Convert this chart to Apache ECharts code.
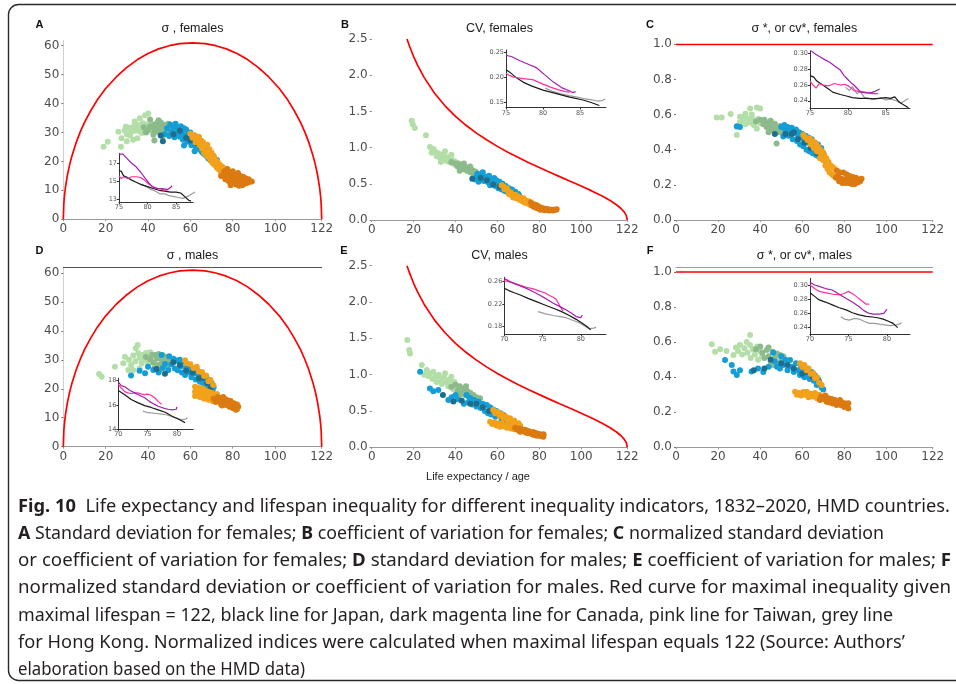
<!DOCTYPE html>
<html><head><meta charset="utf-8">
<script src="https://cdn.jsdelivr.net/npm/echarts@6/dist/echarts.min.js"></script>
<style>html,body{margin:0;padding:0;background:#fff}#c{width:956px;height:684px}</style>
</head><body><div id="c"></div>
<script>
// ---------- tick labels ----------
const xTicks = [0, 20, 40, 60, 80, 100, 122];
const sigmaTicks = [0, 10, 20, 30, 40, 50, 60];
const cvTicks = [0, 0.5, 1.0, 1.5, 2.0, 2.5];
const normTicks = [0, 0.2, 0.4, 0.6, 0.8, 1.0];
const insetFemaleXTicks = [75, 80, 85];
const insetMaleXTicks = [70, 75, 80];
const iA_yTicks = [13, 15, 17];
const iB_yTicks = [0.15, 0.20, 0.25];
const iC_yTicks = [0.24, 0.26, 0.28, 0.30];
const iD_yTicks = [14, 16, 18];
const iE_yTicks = [0.18, 0.22, 0.26];
const iF_yTicks = [0.24, 0.26, 0.28, 0.30];

// ---------- red maximal-inequality curves ----------
const sigmaMaxCurve = [[0,0],[0.25,5.5],[0.5,7.8],[1,11],[2,15.5],[3,18.9],[4,21.7],[6,26.4],[8,30.2],[10,33.5],[13,37.6],[16,41.2],[20,45.2],[25,49.2],[30,52.5],[35,55.2],[40,57.3],[45,58.9],[50,60],[55,60.7],[61,61],[67,60.7],[72,60],[77,58.9],[82,57.3],[87,55.2],[92,52.5],[97,49.2],[102,45.2],[106,41.2],[109,37.6],[112,33.5],[114,30.2],[116,26.4],[118,21.7],[119,18.9],[120,15.5],[121,11],[121.5,7.8],[121.75,5.5],[122,0]];
const cvMaxCurve = [[16.85,2.5],[17,2.485],[18,2.404],[20,2.258],[22,2.132],[25,1.970],[30,1.751],[35,1.577],[40,1.432],[45,1.308],[50,1.2],[55,1.104],[60,1.017],[65,0.936],[70,0.862],[75,0.792],[80,0.725],[85,0.660],[90,0.596],[95,0.533],[100,0.469],[105,0.402],[110,0.330],[114,0.265],[117,0.207],[119,0.159],[120.5,0.112],[121.5,0.064],[122,0]];
const normMaxLine = [[0,1],[122,1]];

// ---------- Panel A: sigma, females ----------
const A_lightgreen = [[19,25.1],[21,26.8],[26,30.3],[27.5,28],[27.2,25.1],[29,30.8],[30,29.4],[31,31.6],[32,30.2],[33,32],[33.7,33.8],[34,30.6],[35,31.8],[36,30.4],[36.1,34.9],[36.5,32.6],[37,29.8],[38,31.2],[38.6,36],[39,32.8],[39.5,30.2],[40.1,36.6],[40.5,31.6],[41,33.4],[42,30.8],[35,28],[30,27],[33,27.5],[31.5,29],[34.5,32.8],[37.5,33.2],[29.5,32]];
const A_sage = [[38,31.8],[40,30.8],[41,32.2],[42,31.8],[43,30.2],[43,32.8],[44,31.4],[44.5,33.4],[45,30.2],[45.5,32.2],[46,31.3],[46.5,29.8],[47,32.8],[47.5,31],[48,30.2],[48.5,32.4],[49,31.2],[49.5,33],[50,30.4],[50.5,32],[51,31],[52,30.6],[43,27.2],[47,28.6],[41,34.5],[45,34.2],[42.5,29.2],[46,33.5],[39,30]];
const A_blue = [[48,29.5],[49,31.5],[50,28.8],[50.5,32.8],[51,30.2],[52,31.8],[52.5,28.4],[53,33],[53.5,30],[54,31.8],[55,28.5],[55.5,32.2],[56,30],[56.5,27.5],[57,31.5],[57.5,29],[58,31],[58.5,26.8],[59,29.8],[59.5,27.8],[60,30],[60.5,25.6],[61,28.6],[61.5,26.6],[62,29],[62.5,25],[63,27.8],[63.5,26],[64,28],[64.5,24],[65,26.6],[65.5,23.2],[66,25.4],[66.5,22.6],[67,24.6],[67.5,22],[68,23.8],[68.5,21],[69,23],[69.5,20.4],[70,22.2],[70.5,19.6],[71,21.4],[72,19.2],[72.5,20.6],[57,25.5],[62,23.5],[54,29.5],[59,28.5],[64,26.8]];
const A_teal = [[47,27],[52,29.4],[55,30.6],[58,28.2],[60,27.2],[63,26.4],[65,25],[67,23.2],[69,21.8],[71,20.4],[46,29]];
const A_orange = [[60,29.6],[61,28.2],[62,29],[62.5,26.6],[63,28.2],[63.5,27],[64,28.5],[64.5,25.5],[65,27.2],[65.5,24.5],[66,26.6],[66.5,23],[67,25.6],[67.5,22.2],[68,25.8],[68.5,21.5],[69,24.2],[69.5,20.4],[70,23],[70.5,19.5],[71,22],[71.5,18.8],[72,20.6],[72.5,17.8],[73,19.6],[73.5,17.2],[74,18.8],[74.5,16.2],[75,18.2],[75.5,15.6],[76,17.6],[76.5,14.6],[66,24.8],[68,23.4],[70,21.2],[72,19.2],[74,17.4]];
const A_darkorange = [[76,16.6],[77,15.2],[77.5,17.4],[78,13.2],[78.5,16],[79,12.4],[79.5,14.8],[80,16.6],[80.5,13.2],[81,15.4],[81.5,12],[82,14.2],[82.5,16],[83,12.6],[83.5,15],[84,13.6],[84.5,11.8],[85,14.6],[85.5,12.8],[86,14.2],[86.5,13.2],[87,12.6],[87.5,13.8],[88,13],[89,13.1],[79,11.8],[83,11.6],[76.5,13.8],[74.5,15],[77,14],[78,15.4],[80,14.2],[82,13],[84,14.8],[86,12.4]];

// ---------- Panel B: CV, females ----------
const B_lightgreen = [[19.1,1.37],[19.6,1.32],[20.6,1.27],[25.9,1.17],[27.8,1.01],[28.6,0.93],[29.5,0.98],[30.5,0.94],[31,0.88],[32,0.92],[32.5,0.86],[33.5,0.9],[34,0.84],[35,0.88],[35.5,0.82],[36.5,0.86],[37,0.8],[38,0.84],[38.5,0.78],[39.5,0.81],[40,0.76],[41,0.79],[35,0.95],[38,0.9],[33,0.8]];
const B_sage = [[38,0.8],[40,0.78],[41,0.74],[42,0.77],[42.5,0.72],[43.5,0.75],[44,0.7],[45,0.73],[45.5,0.68],[46.5,0.71],[47,0.66],[48,0.69],[48.5,0.64],[49.5,0.67],[50,0.62],[51,0.64],[51.5,0.6],[44,0.78],[47,0.74],[42,0.68]];
const B_blue = [[49.5,0.56],[50,0.6],[50.5,0.64],[51,0.53],[52,0.62],[52.5,0.57],[53,0.66],[53.5,0.54],[54,0.6],[55,0.57],[55.5,0.52],[56,0.61],[56.5,0.48],[57,0.55],[58,0.52],[58.5,0.58],[59,0.47],[59.5,0.55],[60,0.5],[60.5,0.44],[61,0.53],[61.5,0.47],[62,0.42],[62.5,0.5],[63,0.45],[63.5,0.4],[64,0.47],[64.5,0.43],[65,0.38],[65.5,0.44],[66,0.41],[66.5,0.36],[67,0.42],[67.5,0.38],[68,0.34],[68.5,0.39],[69,0.35],[69.5,0.31],[70,0.36],[70.5,0.33],[71,0.29]];
const B_teal = [[48,0.57],[52,0.58],[55,0.55],[58,0.49],[61,0.46],[64,0.41],[67,0.37],[70,0.32]];
const B_orange = [[62,0.48],[63,0.46],[63.5,0.42],[64.5,0.44],[65,0.4],[65.5,0.36],[66.5,0.38],[67,0.34],[67.5,0.31],[68.5,0.35],[69,0.3],[69.5,0.33],[70.5,0.28],[71,0.31],[72,0.26],[72.5,0.3],[73,0.24],[73.5,0.27],[74,0.23],[75,0.26],[75.5,0.21]];
const B_darkorange = [[76,0.24],[76.5,0.2],[77,0.22],[77.5,0.18],[78,0.21],[78.5,0.17],[79,0.2],[79.5,0.16],[80,0.18],[80.5,0.14],[81,0.17],[81.5,0.15],[82,0.16],[82.5,0.135],[83,0.155],[83.5,0.14],[84,0.15],[84.5,0.13],[85,0.145],[85.5,0.135],[86,0.14],[86.5,0.13],[87,0.14],[88,0.14],[88.3,0.15]];

// ---------- Panel C: sigma*, cv*, females ----------
const C_lightgreen = [[19.3,0.584],[21.7,0.584],[26,0.604],[28.9,0.484],[28.9,0.53],[30.4,0.588],[30.4,0.556],[31.5,0.57],[32.5,0.59],[33,0.545],[34,0.575],[35,0.555],[35.2,0.635],[36,0.58],[37,0.54],[37.5,0.565],[38.4,0.641],[38.4,0.52],[39,0.575],[40,0.635],[40,0.55],[41,0.56],[33,0.605],[36,0.6]];
const C_sage = [[38,0.56],[40,0.57],[41.5,0.545],[42,0.57],[43,0.53],[43.5,0.555],[44.5,0.52],[45,0.55],[46,0.535],[46.5,0.505],[47,0.548],[47.8,0.435],[48,0.52],[49,0.5],[49.5,0.535],[50,0.51],[51,0.49],[51.5,0.525],[52.5,0.5],[44,0.5],[45,0.565]];
const C_blue = [[28.9,0.534],[30.4,0.53],[50,0.53],[51,0.475],[51.5,0.54],[52,0.51],[53,0.53],[53.5,0.48],[54,0.51],[55,0.525],[55.5,0.46],[56,0.495],[57,0.515],[57.5,0.45],[58,0.48],[58.5,0.5],[59,0.43],[59.5,0.47],[60,0.49],[60.5,0.42],[61,0.455],[61.5,0.48],[62,0.4],[62.5,0.44],[63,0.47],[63.5,0.39],[64,0.43],[64.5,0.46],[65,0.38],[65.5,0.42],[66,0.44],[66.5,0.37],[67,0.41],[67.5,0.43],[68,0.36],[68.5,0.39],[69,0.41],[69.5,0.35],[70,0.38],[70.5,0.34]];
const C_teal = [[47,0.49],[52,0.49],[55,0.49],[58,0.46],[61,0.44],[64,0.41],[67,0.38],[69,0.37],[56,0.5]];
const C_orange = [[60.5,0.484],[61.5,0.47],[62.5,0.455],[63.5,0.465],[64,0.43],[65,0.45],[65.5,0.41],[66.5,0.435],[67,0.39],[67.5,0.42],[68.4,0.351],[68.5,0.4],[69,0.37],[69.5,0.39],[70,0.34],[70.5,0.37],[71,0.31],[71.5,0.35],[72,0.29],[72.5,0.33],[73,0.27],[73.5,0.31],[74,0.26],[74.5,0.3],[75,0.25],[75.5,0.29]];
const C_darkorange = [[76,0.24],[76.5,0.28],[77,0.25],[77.5,0.22],[78,0.27],[78.5,0.235],[79,0.21],[79.5,0.27],[80,0.23],[80.5,0.21],[81,0.26],[81.5,0.235],[82,0.21],[82.5,0.25],[83,0.225],[83.5,0.205],[84,0.245],[84.5,0.22],[85,0.205],[85.5,0.24],[86,0.225],[86.5,0.215],[87,0.23],[87.5,0.22],[88.2,0.235]];

// ---------- Panel D: sigma, males ----------
const D_lightgreen = [[16.9,25.1],[18.1,24.2],[24.4,27.6],[28.3,28.8],[30.7,26.5],[29.1,31.1],[31,30],[32,28.2],[33,31.5],[34,29.5],[34.2,34],[35.1,35.1],[35.4,32.3],[36,30.6],[37,28.8],[37.5,31.8],[38.5,30],[39,32.4],[40,29],[40.5,31.2],[41,32.6],[36,27],[33,26.5]];
const D_sage = [[39,31],[41,30.2],[42,31.8],[42.5,29],[43.3,31.7],[44,30.4],[44.5,28.2],[45,32],[46,30.4],[46.5,28.8],[47,31.6],[48,29.8],[48.5,31],[49,28],[49.6,30.5],[50,29],[51,30.2],[43,27],[46,26.8]];
const D_blue = [[38.6,25.4],[42.5,26.5],[40,27.6],[36,26.2],[32,24.6],[45,25.6],[47,27.2],[46.4,31.7],[48,28.6],[49.6,26.5],[50,31.2],[51,28.4],[52,30.4],[52.7,27],[53.5,29.8],[54,26.4],[55,30],[55.5,27.8],[56,25.6],[57,29.4],[57.5,24.8],[58,27.2],[59,28.2],[59.5,25.6],[60,27.4],[60.5,24],[61,26.8],[62,25.4],[62.5,23.2],[63,26.6],[64,24.4],[64.5,22.4],[65,25.4],[65.5,23.2],[66,21.8],[67,24.4],[67.5,22.2],[68,20.8],[68.5,23.2],[69,21.2],[70,22],[70.5,19.6],[71,20.6]];
const D_teal = [[44,26.8],[48,25.2],[52,29.2],[55,28.2],[58,26.2],[61,25.6],[64,23.6],[66,23.8],[68,22],[69.5,20.2]];
const D_orange = [[57.5,29.9],[58.3,28.8],[60,28.5],[61.5,27.2],[63,27.6],[64,26],[65.5,25.8],[66.5,24.4],[67.5,24.6],[68.5,22.6],[69.5,23],[70.8,21.3],[62.2,20.7],[62.2,19],[62.2,17.5],[63.5,20.4],[63.5,18.4],[64.5,19.6],[64.5,17.2],[65.5,20.2],[65.5,18.2],[66.5,16.6],[66.9,19.6],[67.5,17.8],[68.5,19],[68.5,16.2],[69.5,17.6],[70,18.6],[70.5,15.8],[71.5,17.4],[72,16.2],[72.5,18.2]];
const D_darkorange = [[72,15.4],[73,17.2],[73.5,15.8],[74,16.8],[74.5,14.6],[75,16.2],[75.5,17.2],[76,15],[76.5,16.4],[77,14.4],[77.5,16],[78,15],[78.5,13.8],[79,15.8],[79.5,14.4],[80,13.4],[80.5,15],[81,14],[81.5,12.8],[82,14.6],[82.6,13.8],[82,13],[71,16.6],[75,14.2]];

// ---------- Panel E: CV, males ----------
const E_lightgreen = [[17,1.477],[17.9,1.34],[18.3,1.29],[23.9,1.133],[26.3,1.064],[25,1.0],[27,0.98],[28,1.02],[29,0.94],[29.4,1.04],[30.5,0.97],[31,0.9],[32,1.0],[33,0.93],[33.5,0.87],[34.5,0.96],[35,1.02],[35.5,0.9],[36.5,0.84],[37,0.93],[38,0.87],[39,0.8],[39.5,0.9],[40.5,0.83],[38,0.97]];
const E_sage = [[38,0.83],[40,0.86],[41,0.78],[42,0.84],[43,0.76],[43.7,0.81],[44.5,0.72],[45.5,0.78],[46,0.7],[47,0.75],[48,0.67],[48.5,0.72],[49.5,0.65],[50,0.69],[51,0.62],[51.7,0.675],[45,0.84],[42,0.72]];
const E_blue = [[23.1,1.04],[27.8,0.81],[29.4,0.77],[31.8,0.79],[36.6,0.65],[38.2,0.69],[41,0.66],[44,0.6],[45.3,0.72],[46,0.62],[47,0.68],[48,0.59],[49,0.65],[50,0.56],[51,0.63],[52,0.54],[53,0.6],[54,0.5],[54.9,0.582],[55.5,0.47],[56.5,0.55],[57,0.45],[58,0.52],[59,0.42],[59.5,0.5],[60.5,0.44],[61.5,0.47],[62,0.39],[63,0.44],[63.5,0.37],[64.4,0.4],[65,0.34],[66,0.38],[67,0.32],[68,0.35],[69,0.3],[70,0.32],[70.8,0.284],[40,0.72]];
const E_teal = [[34,0.72],[39,0.63],[43,0.64],[47,0.6],[50,0.6],[53,0.55],[56,0.5],[60,0.46],[63,0.4],[66,0.35],[69,0.32]];
const E_orange = [[58,0.513],[59,0.47],[60,0.49],[61,0.43],[62,0.46],[63,0.4],[64,0.42],[65,0.37],[66,0.4],[67,0.34],[68,0.37],[69,0.31],[70,0.33],[70.8,0.3],[56.5,0.352],[57.5,0.32],[58.5,0.34],[59.5,0.3],[60,0.33],[61,0.31],[61.2,0.284],[62,0.33],[63,0.29],[64,0.31],[64.5,0.27],[65.5,0.3],[66.5,0.26],[67.5,0.29],[68,0.25]];
const E_darkorange = [[68.5,0.27],[69.5,0.24],[70.5,0.26],[70.8,0.215],[71.5,0.25],[72,0.22],[73,0.24],[73.5,0.205],[74,0.23],[74.5,0.195],[75,0.22],[76,0.2],[76.5,0.18],[77,0.21],[77.5,0.17],[78,0.2],[78.8,0.16],[79.5,0.185],[80,0.17],[80.5,0.155],[81,0.175],[81.9,0.146],[81.9,0.165],[82,0.18]];

// ---------- Panel F: sigma*, cv*, males ----------
const F_lightgreen = [[17,0.588],[18.6,0.545],[21,0.56],[27.3,0.526],[28.5,0.57],[29.5,0.55],[30.4,0.584],[31.5,0.53],[32.5,0.565],[33.6,0.6],[34,0.54],[35.2,0.584],[35.2,0.64],[35.5,0.51],[36.5,0.56],[37.5,0.53],[38.5,0.575],[39,0.5],[40,0.55],[41,0.52],[24,0.55]];
const F_sage = [[38,0.56],[40,0.575],[41,0.54],[42,0.51],[43.1,0.555],[44,0.52],[45,0.49],[46,0.545],[46.2,0.47],[47,0.51],[48,0.535],[48.5,0.48],[49.4,0.526],[50,0.5],[51,0.52],[44,0.57]];
const F_blue = [[23.3,0.498],[26.5,0.47],[27.3,0.432],[28.9,0.412],[30.4,0.44],[35.9,0.432],[39,0.45],[41.5,0.43],[44,0.46],[46.2,0.54],[47,0.49],[48,0.46],[49.4,0.45],[50,0.52],[51,0.47],[52,0.5],[53,0.44],[54.2,0.498],[55,0.46],[56,0.43],[57,0.48],[58,0.44],[58.9,0.412],[59.5,0.46],[60.5,0.43],[61,0.4],[62.1,0.45],[63,0.41],[63.5,0.39],[64.5,0.43],[65.5,0.38],[66,0.41],[66.9,0.355],[67.5,0.39],[68.5,0.36],[69.2,0.34],[70,0.33]];
const F_teal = [[37,0.44],[42,0.45],[45,0.5],[50,0.48],[53,0.47],[56,0.45],[60,0.42],[62,0.43],[65,0.4],[68,0.375]];
const F_orange = [[58.9,0.48],[60,0.46],[61,0.47],[62,0.44],[63,0.45],[64,0.42],[65.3,0.422],[66,0.395],[67,0.4],[68,0.37],[69.2,0.355],[56.6,0.317],[57.5,0.3],[58.5,0.31],[59.5,0.295],[60.5,0.315],[61.5,0.3],[62.1,0.317],[63,0.285],[64,0.305],[65,0.29],[66,0.31],[67,0.28],[68,0.3]];
const F_darkorange = [[68.4,0.27],[69,0.29],[70,0.275],[71,0.295],[71.6,0.26],[72.5,0.28],[73,0.255],[74,0.275],[74.5,0.25],[75.5,0.27],[76.3,0.241],[77,0.26],[77.9,0.27],[78.5,0.24],[79,0.255],[80,0.23],[80.5,0.25],[81,0.235],[81.9,0.251],[81.9,0.222],[80,0.245]];

// ---------- Insets: Japan, Canada, Taiwan, Hong Kong ----------
const A_canada = [[75,18.0],[75.7,18.0],[76.3,17.6],[77.2,17.0],[78,16.6],[78.8,16.0],[79.5,15.4],[80.1,14.9],[80.8,14.4],[81.5,14.2],[82.5,14.2],[83.5,14.1],[84,14.3],[84.3,14.5]];
const A_japan = [[75,16.2],[75.4,16.1],[75.8,15.6],[76.5,15.4],[77.3,15.1],[78,14.9],[79,14.6],[80,14.4],[81,14.2],[82,14.0],[83,13.9],[84,13.8],[85,13.8],[85.8,13.7],[86.5,13.3],[87.2,12.9],[87.6,12.8]];
const A_taiwan = [[75,15.6],[75.4,15.3],[75.8,15.5],[76.5,15.3],[77.2,15.5],[78,15.5],[78.8,15.4],[79.5,15.1],[80.2,14.7],[81,14.4],[81.8,14.2],[82.5,14.1],[83.3,14.0],[83.6,14.1]];
const A_hongkong = [[79,14.7],[79.8,14.4],[80.6,14.1],[81.4,13.9],[82.2,13.6],[83,13.6],[83.8,13.4],[84.6,13.3],[85.4,13.2],[86.2,13.1],[86.9,13.3],[87.5,13.5],[88.3,13.8]];

const B_canada = [[75,0.244],[75.8,0.241],[76.9,0.233],[78,0.226],[79.1,0.219],[80.2,0.205],[81.4,0.19],[82.5,0.179],[83.6,0.172],[84,0.169],[84.4,0.171]];
const B_japan = [[75,0.215],[75.5,0.21],[76.3,0.2],[77.3,0.19],[78.5,0.182],[80,0.174],[81.8,0.167],[83.6,0.16],[85.4,0.154],[86.5,0.149],[87.6,0.143]];
const B_taiwan = [[75,0.208],[75.5,0.203],[76,0.2],[77.3,0.197],[78.6,0.195],[80,0.186],[81,0.18],[82,0.175],[83,0.171],[83.6,0.17]];
const B_hongkong = [[80.3,0.178],[81.2,0.172],[82.3,0.167],[83.5,0.163],[84.6,0.16],[85.5,0.157],[86.4,0.155],[87.3,0.152],[88,0.153],[88.4,0.156]];

const C_canada = [[75,0.305],[75.6,0.3],[76.3,0.296],[77,0.292],[77.6,0.289],[78.3,0.284],[79,0.279],[79.5,0.272],[79.9,0.268],[80.4,0.263],[80.8,0.26],[81.3,0.255],[81.7,0.251],[82.4,0.25],[83,0.25],[83.6,0.252],[84.2,0.255]];
const C_japan = [[75,0.272],[75.5,0.27],[75.9,0.265],[76.7,0.26],[77.3,0.256],[78,0.251],[79,0.248],[79.8,0.246],[80.6,0.244],[81.5,0.243],[82.5,0.243],[83.3,0.2425],[84.2,0.243],[85,0.244],[85.6,0.243],[86.2,0.245],[86.8,0.238],[87.5,0.234],[88,0.231]];
const C_taiwan = [[75,0.265],[75.4,0.26],[75.8,0.256],[76.2,0.262],[76.7,0.26],[77.5,0.259],[78.2,0.262],[79,0.26],[79.6,0.261],[80.2,0.258],[80.8,0.253],[81.5,0.252],[82.3,0.251],[83.2,0.249],[84,0.249]];
const C_hongkong = [[79.7,0.257],[80.2,0.253],[80.6,0.258],[81.2,0.249],[81.6,0.252],[82.2,0.244],[82.8,0.243],[83.5,0.242],[84.3,0.244],[85,0.241],[85.7,0.242],[86.4,0.24],[87,0.237],[87.5,0.24],[88,0.243]];

const D_canada = [[70,17.9],[70.5,17.6],[71.1,17.5],[72,17.2],[72.8,17.0],[73.6,16.8],[74.5,16.6],[75.3,16.3],[76.2,16.05],[76.8,15.9],[77.4,15.8],[78,15.7],[78.5,15.65],[79.2,15.6],[79.9,15.65],[80,15.85]];
const D_taiwan = [[70,17.7],[70.5,17.4],[71.1,17.1],[71.6,17.0],[72.2,16.95],[72.8,17.0],[73.3,17.0],[74,16.9],[74.5,16.85],[75,16.9],[75.6,16.8],[76.2,16.6],[76.8,16.3],[77.4,16.05]];
const D_japan = [[70,17.2],[70.3,17.1],[71.1,16.85],[72.2,16.45],[73.3,16.2],[74.5,15.95],[75.6,15.8],[76.8,15.6],[78,15.4],[79.1,15.1],[80.2,14.85],[80.8,14.7],[81.4,14.55]];
const D_hongkong = [[74.2,15.5],[74.8,15.4],[75.6,15.35],[76.5,15.3],[77.4,15.25],[78.2,15.2],[79.1,15.05],[79.8,14.95],[80.5,14.85],[81,14.8],[81.5,14.85],[81.8,14.95]];

const E_canada = [[70,0.266],[70.5,0.262],[71.2,0.257],[72,0.253],[72.9,0.248],[73.8,0.242],[74.6,0.236],[75.5,0.229],[76.4,0.221],[77.3,0.215],[78.1,0.209],[78.8,0.203],[79.4,0.197],[80,0.195],[80.2,0.2]];
const E_taiwan = [[70,0.262],[70.6,0.26],[71.2,0.258],[72,0.254],[72.9,0.25],[73.8,0.247],[74.6,0.243],[75.3,0.24],[75.9,0.235],[76.4,0.232],[76.8,0.228],[77.3,0.215],[77.7,0.207]];
const E_japan = [[70,0.248],[70.6,0.244],[71.3,0.24],[72.1,0.236],[73.1,0.23],[74.2,0.224],[75.3,0.218],[76.4,0.212],[77.5,0.206],[78.5,0.199],[79.4,0.192],[80.2,0.185],[80.8,0.179],[81.3,0.173]];
const E_hongkong = [[74.4,0.206],[75.4,0.202],[76.4,0.199],[77.3,0.197],[78.1,0.195],[79,0.19],[79.8,0.186],[80.5,0.18],[81.1,0.175],[81.7,0.176],[82,0.178]];

const F_canada = [[70,0.304],[70.6,0.3],[71.2,0.298],[72,0.295],[72.9,0.293],[73.8,0.287],[74.7,0.281],[75.5,0.276],[76.4,0.2695],[77,0.264],[77.7,0.26],[78.3,0.259],[79,0.259],[79.6,0.26],[80,0.266]];
const F_taiwan = [[70,0.3],[70.6,0.295],[71.2,0.291],[72.1,0.289],[73,0.287],[73.8,0.286],[74.4,0.288],[75,0.291],[75.5,0.288],[76,0.284],[76.6,0.279],[77.3,0.273],[77.7,0.273]];
const F_japan = [[70,0.289],[70.6,0.284],[71.2,0.279],[72,0.276],[72.9,0.272],[73.8,0.268],[74.7,0.265],[75.5,0.261],[76.4,0.258],[77.3,0.256],[78.1,0.255],[78.8,0.254],[79.5,0.252],[80.2,0.249],[80.8,0.246],[81.4,0.24]];
const F_hongkong = [[74,0.2554],[74.5,0.252],[75.1,0.2507],[75.8,0.253],[76.4,0.2521],[77,0.249],[77.7,0.246],[78.4,0.246],[79,0.245],[79.7,0.244],[80.3,0.243],[81.2,0.244],[81.6,0.245],[81.9,0.247]];

// ---------- texts ----------
const panelLetters = ['A','B','C','D','E','F'];
const panelTitles = ['σ , females','CV, females','σ *, or cv*, females','σ , males','CV, males','σ *, or cv*, males'];
const xAxisTitle = 'Life expectancy / age';
const captionLines = [
  [['Fig. 10', true], ['  Life expectancy and lifespan inequality for different inequality indicators, 1832–2020, HMD countries.', false]],
  [['A', true], [' Standard deviation for females; ', false], ['B', true], [' coefficient of variation for females; ', false], ['C', true], [' normalized standard deviation', false]],
  [['or coefficient of variation for females; ', false], ['D', true], [' standard deviation for males; ', false], ['E', true], [' coefficient of variation for males; ', false], ['F', true]],
  [['normalized standard deviation or coefficient of variation for males. Red curve for maximal inequality given', false]],
  [['maximal lifespan = 122, black line for Japan, dark magenta line for Canada, pink line for Taiwan, grey line', false]],
  [['for Hong Kong. Normalized indices were calculated when maximal lifespan equals 122 (Source: Authors’', false]],
  [['elaboration based on the HMD data)', false]]
];

// ---------- layout (pixels) ----------
const mainGrids = [
  {left:63.3, top:40.5, width:258.4, height:178.8, ymax:61.8, ticks:sigmaTicks, fmt:v=>String(v), yline:true},
  {left:371.7, top:39, width:255.6, height:181, ymax:2.5, ticks:cvTicks, fmt:v=>v.toFixed(1), yline:false},
  {left:676, top:44.3, width:256.7, height:175.7, ymax:1.0, ticks:normTicks, fmt:v=>v.toFixed(1), yline:false},
  {left:63.3, top:266.9, width:258.4, height:179.8, ymax:62.1, ticks:sigmaTicks, fmt:v=>String(v), yline:true},
  {left:371.7, top:265.7, width:255.6, height:181.6, ymax:2.5, ticks:cvTicks, fmt:v=>v.toFixed(1), yline:false},
  {left:676, top:267, width:256.7, height:180.3, ymax:1.0285, ticks:normTicks, fmt:v=>v.toFixed(1), yline:false}
];
const insetGrids = [
  {left:119, top:153.3, width:74.3, height:49, xmin:75, xmax:88, ymin:12.67, ymax:18.1, xt:insetFemaleXTicks, yt:iA_yTicks, fmt:v=>String(v)},
  {left:506, top:50, width:100, height:57.5, xmin:75, xmax:88.5, ymin:0.139, ymax:0.2545, xt:insetFemaleXTicks, yt:iB_yTicks, fmt:v=>v.toFixed(2)},
  {left:810, top:51, width:100, height:57.3, xmin:75, xmax:88.2, ymin:0.2304, ymax:0.3033, xt:insetFemaleXTicks, yt:iC_yTicks, fmt:v=>v.toFixed(2)},
  {left:118.3, top:378.3, width:75, height:51, xmin:70, xmax:82.8, ymin:14, ymax:18.2, xt:insetMaleXTicks, yt:iD_yTicks, fmt:v=>String(v)},
  {left:504.3, top:277.3, width:101.7, height:57, xmin:70, xmax:83.3, ymin:0.165, ymax:0.268, xt:insetMaleXTicks, yt:iE_yTicks, fmt:v=>v.toFixed(2)},
  {left:810, top:278.3, width:100, height:56, xmin:70, xmax:83, ymin:0.2307, ymax:0.3094, xt:insetMaleXTicks, yt:iF_yTicks, fmt:v=>v.toFixed(2)}
];

const COL = {lightgreen:'#b3dea8', sage:'#8dba8b', blue:'#159ed6', teal:'#1d6e8e', orange:'#f2a11b', darkorange:'#dc7a12',
  japan:'#1a1a1a', canada:'#a21fb3', taiwan:'#ff2f9c', hongkong:'#9b9b9b', red:'#ff0000'};
const tickFont = 'DejaVu Sans';

const grid = [], xAxis = [], yAxis = [], series = [];
mainGrids.forEach((g, i) => {
  grid.push({left:g.left, top:g.top, width:g.width, height:g.height, containLabel:false});
  xAxis.push({gridIndex:i, type:'value', min:0, max:122,
    axisLine:{show:true, onZero:false, lineStyle:{color:'#9a9a9a', width:1.2}},
    axisTick:{show:true, length:2, customValues:xTicks, lineStyle:{color:'#9a9a9a'}},
    axisLabel:{customValues:xTicks, margin:4, color:'#4d4d4d', fontFamily:tickFont, fontSize:12},
    splitLine:{show:false}});
  yAxis.push({gridIndex:i, type:'value', min:0, max:g.ymax,
    axisLine:{show:g.yline, lineStyle:{color:'#d0d0d0', width:1}},
    axisTick:{show:true, length:2, customValues:g.ticks, lineStyle:{color:'#777'}},
    axisLabel:{customValues:g.ticks, margin:4, color:'#4d4d4d', fontFamily:tickFont, fontSize:12, formatter:g.fmt},
    splitLine:{show:false}});
});
insetGrids.forEach((g, k) => {
  const i = 6 + k;
  grid.push({left:g.left, top:g.top, width:g.width, height:g.height, containLabel:false});
  xAxis.push({gridIndex:i, type:'value', min:g.xmin, max:g.xmax,
    axisLine:{show:true, onZero:false, lineStyle:{color:'#333', width:1}},
    axisTick:{show:true, length:2, customValues:g.xt, lineStyle:{color:'#333'}},
    axisLabel:{customValues:g.xt, margin:2, color:'#555', fontFamily:tickFont, fontSize:6.5},
    splitLine:{show:false}});
  yAxis.push({gridIndex:i, type:'value', min:g.ymin, max:g.ymax,
    axisLine:{show:true, onZero:false, lineStyle:{color:'#333', width:1}},
    axisTick:{show:true, length:2, customValues:g.yt, lineStyle:{color:'#333'}},
    axisLabel:{customValues:g.yt, margin:2, color:'#555', fontFamily:tickFont, fontSize:6.5, formatter:g.fmt},
    splitLine:{show:false}});
});
// top border lines seen in panels D and F
xAxis.push({gridIndex:3, type:'value', position:'top', min:0, max:122, axisLine:{show:true, onZero:false, lineStyle:{color:'#555', width:1}}, axisTick:{show:false}, axisLabel:{show:false}, splitLine:{show:false}});
xAxis.push({gridIndex:5, type:'value', position:'top', min:0, max:122, axisLine:{show:true, onZero:false, lineStyle:{color:'#a0a0a0', width:1.2}}, axisTick:{show:false}, axisLabel:{show:false}, splitLine:{show:false}});

function cloud(i, data, color) {
  return {type:'scatter', xAxisIndex:i, yAxisIndex:i, data:data, symbolSize:6, itemStyle:{color:color, opacity:1}, silent:true, z:2};
}
function redLine(i, data) {
  return {type:'line', xAxisIndex:i, yAxisIndex:i, data:data, showSymbol:false, smooth:false, lineStyle:{color:COL.red, width:1.7}, silent:true, z:3};
}
function country(i, data, color) {
  return {type:'line', xAxisIndex:i, yAxisIndex:i, data:data, showSymbol:false, lineStyle:{color:color, width:1.2}, silent:true, z:4};
}
const clouds = [
  [A_lightgreen, A_sage, A_blue, A_teal, A_orange, A_darkorange],
  [B_lightgreen, B_sage, B_blue, B_teal, B_orange, B_darkorange],
  [C_lightgreen, C_sage, C_blue, C_teal, C_orange, C_darkorange],
  [D_lightgreen, D_sage, D_blue, D_teal, D_orange, D_darkorange],
  [E_lightgreen, E_sage, E_blue, E_teal, E_orange, E_darkorange],
  [F_lightgreen, F_sage, F_blue, F_teal, F_orange, F_darkorange]
];
const cloudColors = [COL.lightgreen, COL.sage, COL.blue, COL.teal, COL.orange, COL.darkorange];
const redCurves = [sigmaMaxCurve, cvMaxCurve, normMaxLine, sigmaMaxCurve, cvMaxCurve, normMaxLine];
clouds.forEach((set, i) => {
  set.forEach((d, j) => series.push(cloud(i, d, cloudColors[j])));
  series.push(redLine(i, redCurves[i]));
});
const insetLines = [
  [A_hongkong, A_japan, A_taiwan, A_canada],
  [B_hongkong, B_japan, B_taiwan, B_canada],
  [C_hongkong, C_japan, C_taiwan, C_canada],
  [D_hongkong, D_japan, D_taiwan, D_canada],
  [E_hongkong, E_japan, E_taiwan, E_canada],
  [F_hongkong, F_japan, F_taiwan, F_canada]
];
const insetColors = [COL.hongkong, COL.japan, COL.taiwan, COL.canada];
insetLines.forEach((set, k) => set.forEach((d, j) => series.push(country(6 + k, d, insetColors[j]))));

// ---------- graphic texts ----------
const graphic = [];
graphic.push({type:'rect', shape:{x:8.5, y:4.5, width:960, height:676, r:10}, style:{fill:'none', stroke:'#2b2b2b', lineWidth:1.4}, silent:true});
const letterPos = [[39.5,24.5],[345,24.5],[650,24.5],[39.5,251.3],[344,251.3],[650,251.3]];
const titleY = [29, 29, 29, 256, 256, 256];
mainGrids.forEach((g, i) => {
  graphic.push({type:'text', x:letterPos[i][0], y:letterPos[i][1], silent:true,
    style:{text:panelLetters[i], fontFamily:'Liberation Sans', fontWeight:'bold', fontSize:11, fill:'#111', align:'center', verticalAlign:'middle'}});
  graphic.push({type:'text', x:g.left + g.width/2, y:titleY[i], silent:true,
    style:{text:panelTitles[i], fontFamily:'Liberation Sans', fontSize:12.5, fill:'#1a1a1a', align:'center', verticalAlign:'middle'}});
});
graphic.push({type:'text', x:478, y:476.5, silent:true,
  style:{text:xAxisTitle, fontFamily:'Liberation Sans', fontSize:11, fill:'#222', align:'center', verticalAlign:'middle'}});

// caption, each line fitted to the width it has in the reference
const capFamily = 'Noto Sans', capSize = 18.5;
const capRight = [950, 884, 951, 951, 893, 905, 305];
const capLeft = 18;
const mctx = document.createElement('canvas').getContext('2d');
function segWidth(t, bold) { mctx.font = (bold ? 'bold ' : 'normal ') + capSize + 'px "' + capFamily + '"'; return mctx.measureText(t).width; }
captionLines.forEach((segs, li) => {
  let txt = '', w = 0;
  segs.forEach(([t, b]) => { txt += b ? '{b|' + t + '}' : t; w += segWidth(t, b); });
  const sx = (capRight[li] - capLeft) / w;
  graphic.push({type:'text', x:capLeft, y:506.5 + li*27.2, scaleX:sx, scaleY:1, silent:true,
    style:{text:txt, fontFamily:capFamily, fontSize:capSize, fill:'#231f20', align:'left', verticalAlign:'middle',
      rich:{b:{fontFamily:capFamily, fontSize:capSize, fontWeight:'bold', fill:'#231f20'}}}});
});

const chart = echarts.init(document.getElementById('c'), null, {renderer:'canvas'});
chart.setOption({animation:false, backgroundColor:'#fff', grid, xAxis, yAxis, series, graphic});
</script></body></html>
